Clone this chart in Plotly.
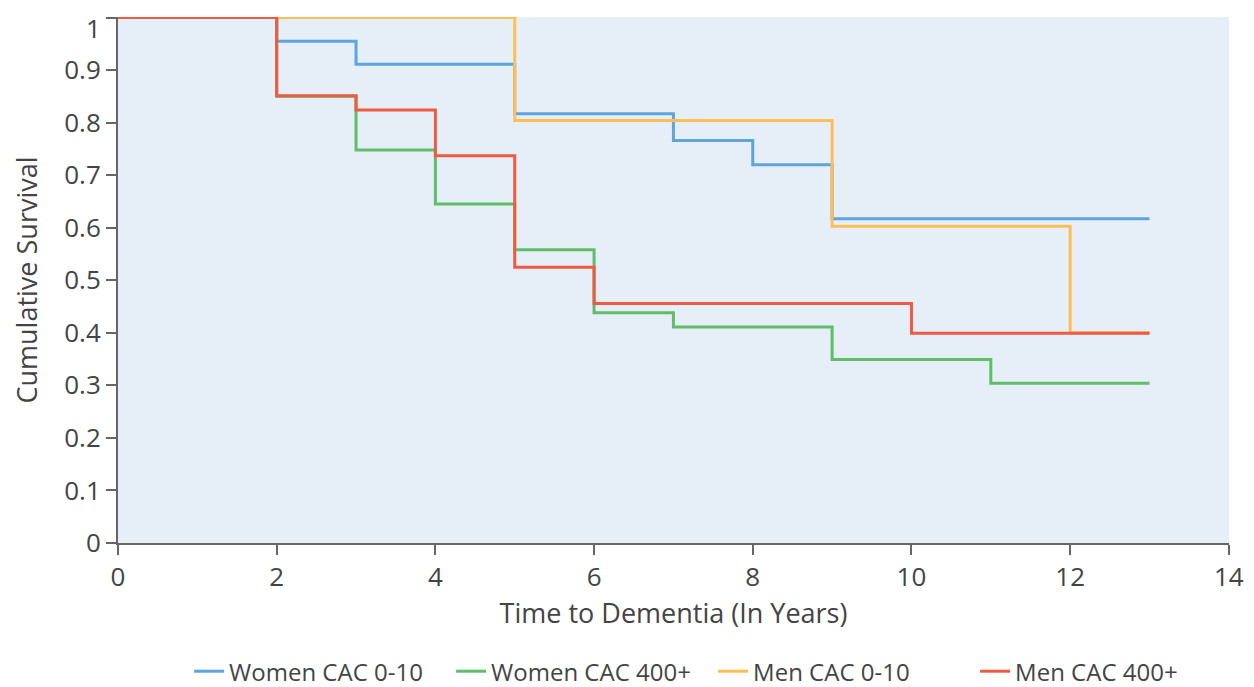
import plotly.graph_objects as go

series_names = ["Women CAC 0-10", "Women CAC 400+", "Men CAC 0-10", "Men CAC 400+"]
series_colors = ["#5DA5DA", "#60BD68", "#FDBF55", "#F05A40"]

women_low_t = [0, 2, 3, 5, 7, 8, 9, 13]
women_low_s = [1.0, 0.955, 0.911, 0.817, 0.766, 0.720, 0.617, 0.617]

women_high_t = [0, 2, 3, 4, 5, 6, 7, 9, 11, 13]
women_high_s = [1.0, 0.850, 0.748, 0.645, 0.558, 0.438, 0.411, 0.349, 0.304, 0.304]

men_low_t = [0, 5, 9, 12, 13]
men_low_s = [1.0, 0.804, 0.603, 0.400, 0.400]

men_high_t = [0, 2, 3, 4, 5, 6, 10, 13]
men_high_s = [1.0, 0.851, 0.824, 0.737, 0.525, 0.456, 0.399, 0.399]

x_ticks = [0, 2, 4, 6, 8, 10, 12, 14]
y_ticks = [0, 0.1, 0.2, 0.3, 0.4, 0.5, 0.6, 0.7, 0.8, 0.9, 1]
y_tick_labels = ["0", "0.1", "0.2", "0.3", "0.4", "0.5", "0.6", "0.7", "0.8", "0.9", "1"]

data = [
    (women_low_t, women_low_s),
    (women_high_t, women_high_s),
    (men_low_t, men_low_s),
    (men_high_t, men_high_s),
]

FONT = "Open Sans"
fig = go.Figure()
for (t, s), name, color in zip(data, series_names, series_colors):
    fig.add_trace(go.Scatter(
        x=t, y=s, name=name, mode="lines",
        line=dict(color=color, width=3, shape="hv"),
        cliponaxis=False,
    ))

# the top tick label would be hidden by plotly (it overflows the page edge),
# so it is written as an annotation at the same tick value
fig.add_annotation(
    text=y_tick_labels[-1], xref="paper", yref="y",
    x=0, y=y_ticks[-1], xanchor="right", yanchor="middle",
    xshift=-16, yshift=-10, showarrow=False, borderpad=0,
    font=dict(size=26, color="#444444", family=FONT),
)

fig.update_layout(
    width=1246, height=679,
    margin=dict(l=110, r=25, t=9, b=144, autoexpand=False),
    paper_bgcolor="white",
    plot_bgcolor="#E6EFF8",
    font=dict(family=FONT, color="#444444"),
    showlegend=True,
    legend=dict(
        orientation="h",
        x=0.064, xanchor="left",
        y=-0.2445, yanchor="middle",
        font=dict(size=24, color="#444444", family=FONT),
        itemwidth=30,
        entrywidth=217, entrywidthmode="pixels",
        bgcolor="rgba(0,0,0,0)",
    ),
    xaxis=dict(
        range=[0, 14.002], tickvals=x_ticks,
        showgrid=False, zeroline=False,
        showline=True, linecolor="#666666", linewidth=2,
        ticks="outside", ticklen=10, tickwidth=2, tickcolor="#666666",
        tickfont=dict(size=26, color="#444444"),
        title=dict(text="Time to Dementia (In Years)", font=dict(size=27, color="#444444"), standoff=10),
    ),
    yaxis=dict(
        range=[0, 1.001], tickvals=y_ticks, ticktext=y_tick_labels[:-1] + [""],
        showgrid=False, zeroline=False,
        showline=True, linecolor="#666666", linewidth=2,
        ticks="outside", ticklen=10, tickwidth=2, tickcolor="#666666",
        tickfont=dict(size=26, color="#444444"),
        title=dict(text="Cumulative Survival", font=dict(size=27, color="#444444"), standoff=44),
    ),
)

fig.write_html("out.html")
